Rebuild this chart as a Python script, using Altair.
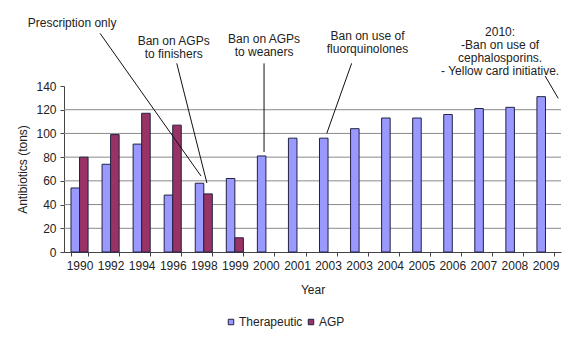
import json
import altair as alt
import pandas as pd

years = ["1990", "1992", "1994", "1996", "1998", "1999", "2000", "2001",
         "2003", "2003", "2004", "2005", "2006", "2007", "2008", "2009"]
therapeutic = [54, 74, 91, 48, 58, 62, 81, 96, 96, 104, 113, 113, 116, 121, 122, 131]
agp = [80, 99, 117, 107, 49, 12]
series = ["Therapeutic", "AGP"]
colors = ["#9999FF", "#993366"]
y_ticks = [0, 20, 40, 60, 80, 100, 120, 140]

# annotation texts and anchor positions (x in category units, y in tons of first line)
ann_text = ["Prescription only", "Ban on AGPs\nto finishers", "Ban on AGPs\nto weaners",
            "Ban on use of\nfluorquinolones",
            "2010:\n-Ban on use of\ncephalosporins.\n- Yellow card initiative."]
ann_u = [0.26, 3.53, 6.44, 9.77, 14.04]
ann_v = [193, 177.6, 179.3, 181.8, 185.2]
line_u1 = [1.16, 3.63, 6.44, 9.26, 15.49]
line_v1 = [184.4, 159.1, 159.1, 159.1, 148.4]
line_u2 = [4.41, 4.60, 6.44, 8.46, 15.91]
line_v2 = [64.1, 58.2, 84.3, 100.1, 129.6]

rows = []
for i, v in enumerate(therapeutic):
    rows.append({"idx": i, "series": "Therapeutic", "value": v})
for i, v in enumerate(agp):
    rows.append({"idx": i, "series": "AGP", "value": v})
df = pd.DataFrame(rows)

ann_df = pd.DataFrame({"text": ann_text, "u": ann_u, "v": ann_v})
line_df = pd.DataFrame({"u1": line_u1, "v1": line_v1, "u2": line_u2, "v2": line_v2})
grid_df = pd.DataFrame({"g": y_ticks[1:-1]})

FONT = "Liberation Sans"
yscale = alt.Scale(domain=[0, 140], nice=False)
uscale = alt.Scale(domain=[0, len(years)], nice=False, zero=False)
ytitle = "Antibiotics (tons)"


def yaxis():
    return alt.Axis(title=ytitle, values=y_ticks, labelOverlap=False, grid=False)


grid = alt.Chart(grid_df).mark_rule(color="#8a8a8a", strokeWidth=1).encode(
    y=alt.Y("g:Q", scale=yscale, axis=yaxis()),
)

bars = alt.Chart(df).mark_bar(stroke="#222244", strokeWidth=1).encode(
    x=alt.X("idx:O",
            scale=alt.Scale(paddingInner=0.45, paddingOuter=0.225),
            axis=alt.Axis(labelExpr=f"{json.dumps(years)}[datum.value]",
                          labelAngle=0, tickBand="extent", title="Year",
                          grid=False)),
    xOffset=alt.XOffset("series:N", sort=series,
                        scale=alt.Scale(domain=series, paddingInner=0, paddingOuter=0)),
    y=alt.Y("value:Q", scale=yscale, axis=yaxis()),
    color=alt.Color("series:N", sort=series,
                    scale=alt.Scale(domain=series, range=colors),
                    legend=alt.Legend(title=None, orient="none", direction="horizontal",
                                      legendX=161, legendY=230)),
)

rules = alt.Chart(line_df).mark_rule(color="#111111", strokeWidth=1).encode(
    x=alt.X("u1:Q", scale=uscale, axis=None),
    x2="u2:Q",
    y=alt.Y("v1:Q", scale=yscale, axis=yaxis()),
    y2="v2:Q",
)

texts = alt.Chart(ann_df).mark_text(
    lineBreak="\n", align="center", baseline="middle", fontSize=12,
    lineHeight=12.8, font=FONT, color="#222222"
).encode(
    x=alt.X("u:Q", scale=uscale, axis=None),
    y=alt.Y("v:Q", scale=yscale, axis=yaxis()),
    text="text:N",
)

chart = alt.layer(grid, bars, rules, texts).resolve_scale(x="independent").properties(
    width=497, height=166,
    autosize=alt.AutoSizeParams(type="none"),
    padding={"left": 64, "top": 86, "right": 11, "bottom": 88},
    background="white",
).configure(font=FONT).configure_view(stroke=None).configure_axis(
    labelFont=FONT, titleFont=FONT, labelFontSize=12, titleFontSize=12,
    titleFontWeight="normal", labelColor="#222222", titleColor="#222222",
    domainColor="#444444", tickColor="#444444", tickSize=4,
).configure_axisX(
    labelPadding=4, titlePadding=13,
).configure_axisY(
    labelPadding=4, titlePadding=6,
).configure_legend(
    labelFont=FONT, labelFontSize=12, labelColor="#222222", symbolType="square",
    symbolSize=30, symbolStrokeColor="#222244", symbolStrokeWidth=1,
    labelOffset=2, columnPadding=2, padding=0,
)

chart.save("out.html", embed_options={"renderer": "svg", "actions": False})
